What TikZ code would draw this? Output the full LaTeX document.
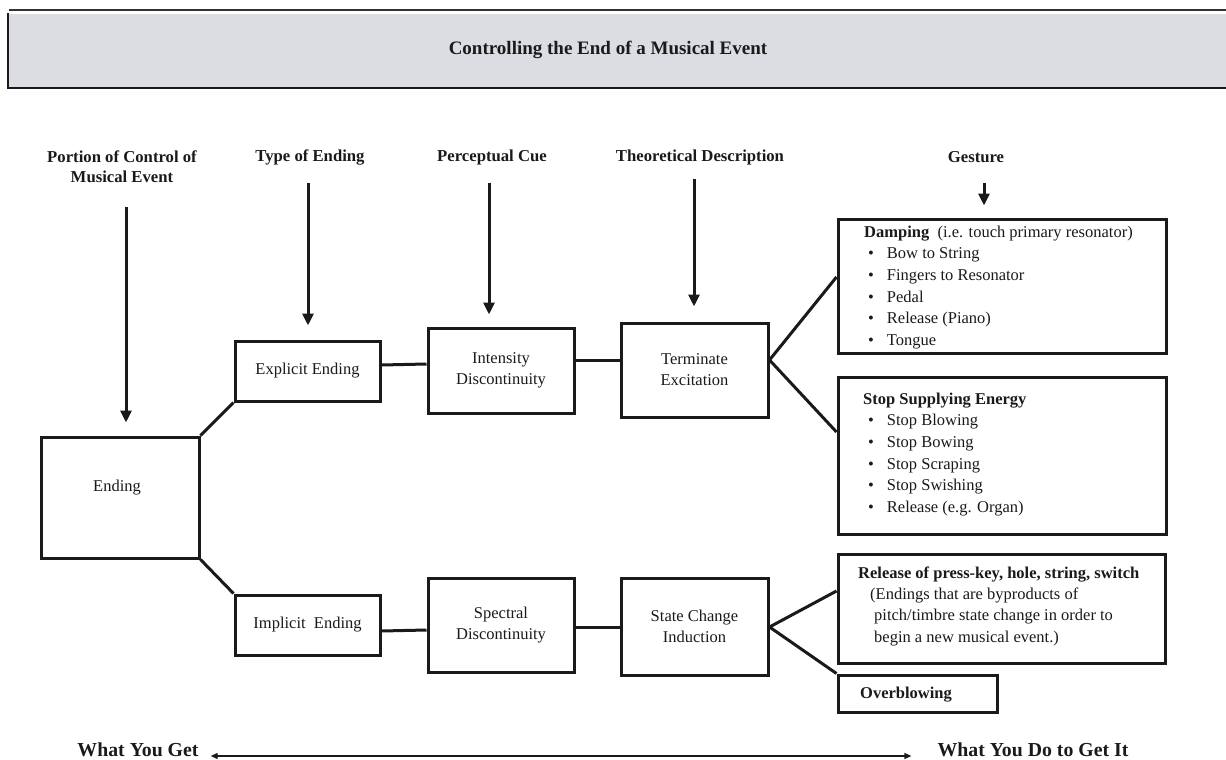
\documentclass[tikz,border=0pt]{standalone}
\usepackage{fontspec}
\setmainfont{Liberation Serif}
\usetikzlibrary{arrows.meta}
\definecolor{ink}{HTML}{1A1A1A}
\definecolor{bannergrey}{HTML}{DCDDE2}
\begin{document}
\begin{tikzpicture}[x=1pt,y=-1pt,
  box/.style={draw=ink, line width=3pt, inner sep=0pt, fill=white},
  link/.style={draw=ink, line width=3pt},
  arr/.style={draw=ink, line width=3pt, -{Triangle[width=11pt,length=12pt]}},
  twoway/.style={draw=ink, line width=1.3pt, {Triangle[width=6pt,length=7pt]}-{Triangle[width=6pt,length=7pt]}},
  body/.style={font=\fontsize{16.5}{21}\selectfont, text=ink, align=center, inner sep=0pt},
  head/.style={font=\bfseries\fontsize{16.7}{20}\selectfont, text=ink, align=center, inner sep=0pt},
  big/.style={font=\bfseries\fontsize{19.8}{22}\selectfont, text=ink, inner sep=0pt},
  lst/.style={font=\fontsize{16.5}{21.7}\selectfont, text=ink, align=left, inner sep=0pt, anchor=north west},
]
\useasboundingbox (0,0) rectangle (1226,760);

% banner
\fill[bannergrey] (8,14) rectangle (1226,88);
\draw[ink!90, line width=2.4pt] (9,10.3) -- (1226,10.3);
\draw[ink, line width=2.8pt] (8,13) -- (8,88) -- (1226,88);
\node[big, font=\bfseries\fontsize{19}{22}\selectfont] (title) at (608,50) {Controlling the End of a Musical Event};

% column headings
\node[head] (h1) at (122,167) {Portion of Control of\\Musical Event};
\node[head] (h2) at (310,157) {Type of Ending};
\node[head] (h3) at (492,157) {Perceptual Cue};
\node[head] (h4) at (700,157) {Theoretical Description};
\node[head] (h5) at (976,157) {Gesture};

% boxes
\node[box, minimum width=158pt, minimum height=121pt,
      label={[body, xshift=-3pt, yshift=9.5pt]center:Ending}] (ending) at (120,497.5) {};
\node[box, body, minimum width=145pt, minimum height=60pt] (explicit) at (307.5,371) {Explicit Ending};
\node[box, body, minimum width=145pt, minimum height=60pt] (implicit) at (307.5,625) {Implicit\ \ Ending};
\node[box, body, minimum width=146pt, minimum height=85pt] (intensity) at (501,370.5) {Intensity\\Discontinuity};
\node[box, body, minimum width=147pt, minimum height=94pt] (terminate) at (694.5,370) {Terminate\\Excitation};
\node[box, body, minimum width=146pt, minimum height=94pt] (spectral) at (501,625) {Spectral\\Discontinuity};
\node[box, body, minimum width=147pt, minimum height=97pt] (state) at (694.5,626.5) {State Change\\Induction};

\node[box, minimum width=328pt, minimum height=134pt] (damping) at (1002,286) {};
\node[box, minimum width=328pt, minimum height=157pt] (stopbox) at (1002,455.5) {};
\node[box, minimum width=327pt, minimum height=109pt] (release) at (1001.5,608.5) {};
\node[box, minimum width=159pt, minimum height=37pt] (overblow) at (917.5,693.5) {};

% box texts
\node[lst] (dampingtext) at (864,225.5) {{\bfseries Damping}\ \ (i.e. touch primary resonator)\\
\hspace*{4pt}\textbullet\hspace{13pt}Bow to String\\
\hspace*{4pt}\textbullet\hspace{13pt}Fingers to Resonator\\
\hspace*{4pt}\textbullet\hspace{13pt}Pedal\\
\hspace*{4pt}\textbullet\hspace{13pt}Release (Piano)\\
\hspace*{4pt}\textbullet\hspace{13pt}Tongue};
\node[lst] (stoptext) at (863,392.5) {{\bfseries Stop Supplying Energy}\\
\hspace*{5pt}\textbullet\hspace{13pt}Stop Blowing\\
\hspace*{5pt}\textbullet\hspace{13pt}Stop Bowing\\
\hspace*{5pt}\textbullet\hspace{13pt}Stop Scraping\\
\hspace*{5pt}\textbullet\hspace{13pt}Stop Swishing\\
\hspace*{5pt}\textbullet\hspace{13pt}Release (e.g. Organ)};
\node[lst, font=\fontsize{16.5}{21.3}\selectfont] (releasetext) at (858,566.5) {{\bfseries Release of press-key, hole, string, switch}\\
\hspace*{12pt}(Endings that are byproducts of\\
\hspace*{16pt}pitch/timbre state change in order to\\
\hspace*{16pt}begin a new musical event.)};
\node[lst, font=\bfseries\fontsize{16.5}{20}\selectfont] (overtext) at (860,686.5) {Overblowing};

% heading arrows
\coordinate (a1) at (126,207);
\coordinate (a2) at (308,183);
\coordinate (a3) at (489,183);
\coordinate (a4) at (694,179);
\coordinate (a5) at (984,183);
\draw[arr, shorten >=13pt] (a1) -- (a1 |- ending.north);
\draw[arr, shorten >=14pt] (a2) -- (a2 |- explicit.north);
\draw[arr, shorten >=12pt] (a3) -- (a3 |- intensity.north);
\draw[arr, shorten >=15pt] (a4) -- (a4 |- terminate.north);
\draw[arr, shorten >=12pt] (a5) -- (a5 |- damping.north);

% connectors
\draw[link] (ending.north east) -- (explicit.south west);
\draw[link] (ending.south east) -- (implicit.north west);
\draw[link] ([yshift=6pt]explicit.east) -- ([yshift=6.5pt]intensity.west);
\draw[link] ([yshift=10.5pt]intensity.east) -- ([yshift=10pt]terminate.west);
\draw[link] ([yshift=9pt]damping.west) -- ([yshift=10pt]terminate.east) -- ([yshift=23.5pt]stopbox.west);
\draw[link] ([yshift=-6pt]implicit.east) -- ([yshift=-5pt]spectral.west);
\draw[link] ([yshift=-2pt]spectral.east) -- ([yshift=-0.5pt]state.west);
\draw[link] ([yshift=17.5pt]release.west) -- ([yshift=-0.5pt]state.east) -- (overblow.north west);

% bottom scale
\node[big, anchor=base] (get) at (138,756) {What You Get};
\node[big, anchor=base] (doget) at (1033,756) {What You Do to Get It};
\draw[twoway, shorten <=12pt, shorten >=26pt] (get.base east) -- (doget.base west);
\end{tikzpicture}
\end{document}
